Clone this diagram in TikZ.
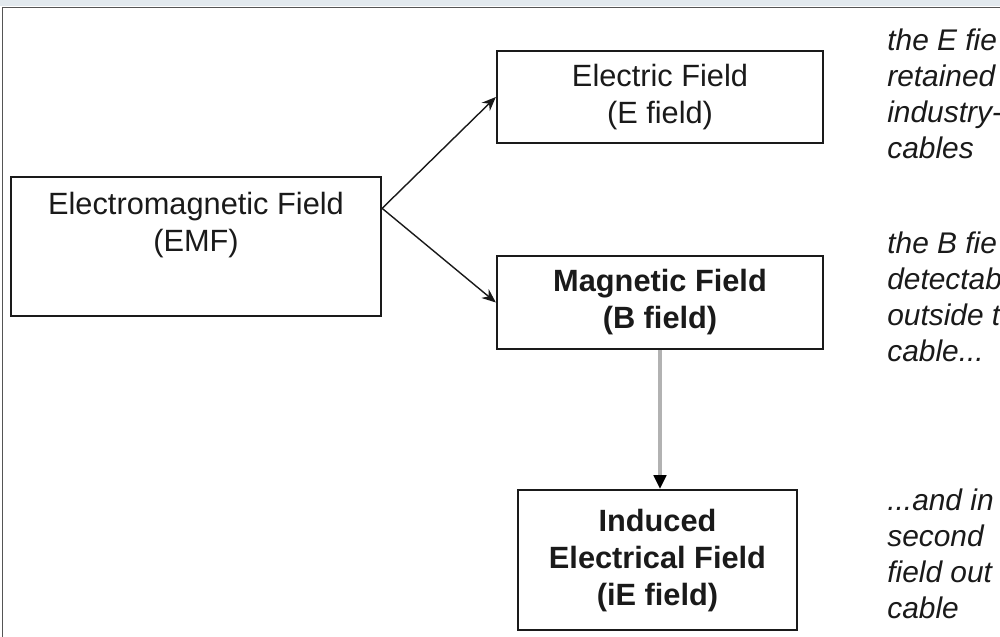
\documentclass[tikz,border=0pt]{standalone}
\usepackage{fontspec}
\setmainfont{Liberation Sans}
\usetikzlibrary{positioning, calc, arrows.meta}
\definecolor{framegray}{HTML}{555555}
\definecolor{shaftgray}{HTML}{B2B2B2}
\definecolor{topstrip}{HTML}{E2E9EE}
\definecolor{inkcol}{HTML}{1A1A1A}
\tikzstyle{box} = [rectangle, draw=inkcol, line width=1.3pt, text=inkcol, align=center, font=\fontsize{17.5}{21}\selectfont]
\tikzstyle{note} = [anchor=west, align=left, inner sep=0pt, text=inkcol, font=\fontsize{17}{20.5}\selectfont\itshape]
\tikzstyle{arrow} = [line width=0.8pt, draw=inkcol, -{Stealth[length=8pt, width=6.5pt]}]
\tikzstyle{grayarrow} = [line width=2.2pt, draw=shaftgray, -{Triangle[length=8pt, width=7pt, color=black, fill=black]}]

\begin{document}
\begin{tikzpicture}

\useasboundingbox (0,0) rectangle (20,-12.74);
\clip (0,0) rectangle (20,-12.74);

% Background and frame
\fill[white] (0,0) rectangle (20,-12.74);
\fill[topstrip] (0,0) rectangle (20,-0.13);
\draw[framegray, line width=1.1pt] (0.05,-12.8) -- (0.05,-0.15) -- (20.1,-0.15);

% Nodes
\node (emf) [box, minimum width=7.4cm, minimum height=2.78cm] at (3.92,-4.93) {Electromagnetic Field\\(EMF)\\[7pt]\mbox{}};
\node (efield) [box, minimum width=6.52cm, minimum height=1.84cm] at (13.2,-1.94) {Electric Field\\(E field)};
\node (bfield) [box, minimum width=6.52cm, minimum height=1.86cm, font=\fontsize{17.5}{21}\selectfont\bfseries] at (13.2,-6.05) {Magnetic Field\\(B field)};
\node (iefield) [box, minimum width=5.58cm, minimum height=2.8cm, font=\fontsize{17.5}{21}\selectfont\bfseries, below=2.78cm of bfield, xshift=-0.05cm] {Induced\\Electrical Field\\(iE field)};

% Notes
\node (enote) [note] at (17.74,-1.88) {the E fie\\retained\\industry-\\cables};
\node (bnote) [note] at (17.74,-5.93) {the B fie\\detectab\\outside t\\cable...};
\node (ienote) [note] at (17.74,-11.08) {...and in\\second\\field out\\cable};

% Arrows
\coordinate (fork) at ($(emf.north east)!0.23!(emf.south east)$);
\draw [arrow] (fork) -- (efield.west);
\draw [arrow] (fork) -- (bfield.west);
\draw [grayarrow] (bfield.south) -- (bfield.south |- iefield.north);

\end{tikzpicture}
\end{document}
